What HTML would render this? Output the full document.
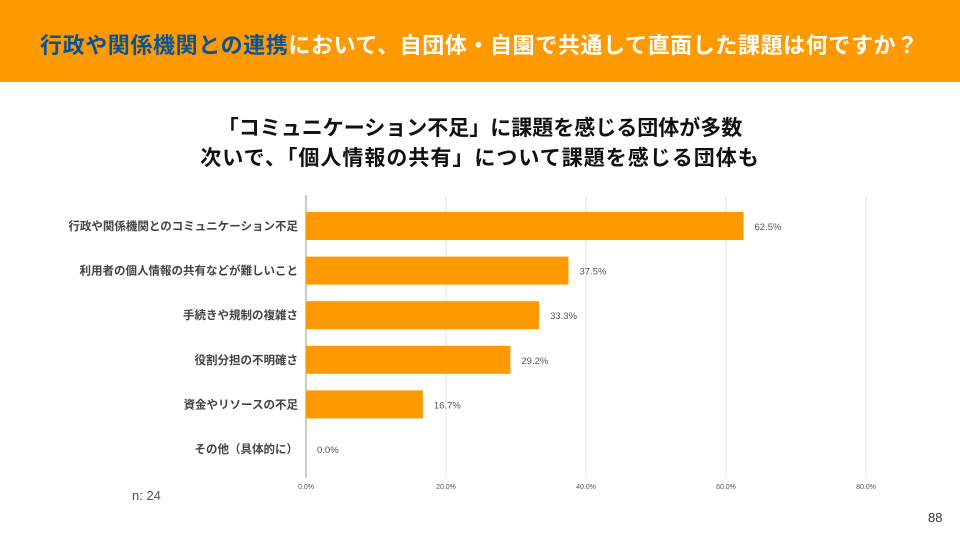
<!DOCTYPE html>
<html><head><meta charset="utf-8">
<style>
body{margin:0;width:960px;height:540px;background:#fff;overflow:hidden;position:relative;font-family:"Liberation Sans","Noto Sans CJK JP",sans-serif;}
.hdr{position:absolute;left:0;top:0;width:960px;height:82px;background:#FF9900;}
.hdr h1{position:absolute;left:40px;top:28px;margin:0;font-size:22px;font-weight:bold;color:#fff;white-space:nowrap;letter-spacing:0.6px}
.hdr h1 span{color:#0b5394}
.sub{position:absolute;left:0;width:960px;text-align:center;font-size:21px;font-weight:bold;color:#111;}
.n{position:absolute;left:132px;top:488px;font-size:13px;color:#555}
.pg{position:absolute;left:928px;top:510px;font-size:13px;color:#333}
</style></head><body>
<div class="hdr"><h1><span>行政や関係機関との連携</span>において、自団体・自園で共通して直面した課題は何ですか？</h1></div>
<div class="sub" style="top:112px;letter-spacing:0px">「コミュニケーション不足」に課題を感じる団体が多数</div>
<div class="sub" style="top:142px;letter-spacing:1px">次いで、「個人情報の共有」について課題を感じる団体も</div>
<svg id="chart" width="960" height="540" style="position:absolute;left:0;top:0"></svg>
<div class="n">n: 24</div>
<div class="pg">88</div>
<script>
const categories=["行政や関係機関とのコミュニケーション不足","利用者の個人情報の共有などが難しいこと","手続きや規制の複雑さ","役割分担の不明確さ","資金やリソースの不足","その他（具体的に）"];
const values=[62.5,37.5,33.3,29.2,16.7,0.0];
const ticks=[0,20,40,60,80];
const svg=document.getElementById('chart');
const NS='http://www.w3.org/2000/svg';
const x=v=>306+v*7;
const y=i=>226+i*44.6;
function mk(t,a){const e=document.createElementNS(NS,t);for(const k in a)e.setAttribute(k,a[k]);svg.appendChild(e);return e;}
ticks.forEach(t=>{
  const g=mk('line',{x1:x(t),x2:x(t),y1:195,y2:478,stroke:t===0?'#999':'#e4e4e4','stroke-width':1});
  
  
  const l=mk('text',{x:x(t),y:489,'font-size':7,fill:'#555','text-anchor':'middle'});
  l.textContent=t.toFixed(1)+'%';
  
  
});
categories.forEach((c,i)=>{
  const cy=y(i);
  const lab=mk('text',{x:298,y:cy+4,'font-size':11.5,'font-weight':'bold',fill:'#444','text-anchor':'end'});
  lab.textContent=c;
  
  
  if(values[i]>0){
    const b=mk('rect',{x:x(0),y:cy-14,width:x(values[i])-x(0),height:28,fill:'#FF9900'});
    
    
  }
  const v=mk('text',{x:x(values[i])+11,y:cy+4,'font-size':9.5,fill:'#555'});
  v.textContent=values[i].toFixed(1)+'%';
  
  
});
</script>
</body></html>
